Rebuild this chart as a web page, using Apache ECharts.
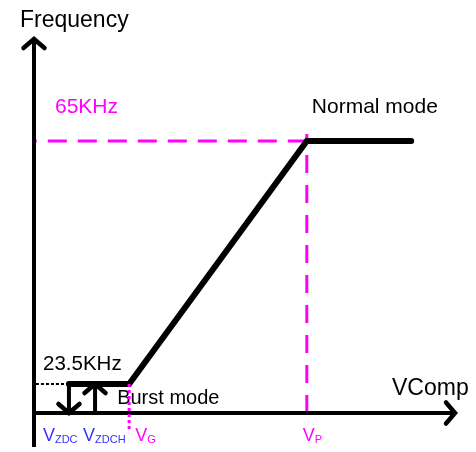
<!DOCTYPE html>
<html>
<head>
<meta charset="utf-8">
<script src="https://cdn.jsdelivr.net/npm/echarts@6/dist/echarts.min.js"></script>
<style>
    html, body { margin: 0; padding: 0; background: #fff; }
    #main { width: 476px; height: 452px; }
</style>
</head>
<body>
<div id="main"></div>
<script>
    // schematic units: x 0..100 along VComp, y 0..100 along Frequency
    var vNames = ['ZDC', 'ZDCH', 'G', 'P'];
    var vPos = [8.3, 14.5, 22.6, 64.8];
    var vColors = ['#3333ff', '#3333ff', '#ff00ff', '#ff00ff'];
    var freqNames = ['23.5KHz', '65KHz'];
    var freqPos = [7.75, 72.7];
    var normalEnd = 89.6;
    var curveX = [vPos[0], vPos[2], vPos[3], normalEnd];
    var curveY = [freqPos[0], freqPos[0], freqPos[1], freqPos[1]];
    var xAxisSpan = [-5.7, 100];
    var yAxisSpan = [-9.1, 100];

    var FONT = '"Liberation Sans", Arial, sans-serif';

    function seg(points, style, z) {
        return {
            type: 'line',
            data: points,
            clip: false,
            symbol: 'none',
            silent: true,
            animation: false,
            z: z || 2,
            lineStyle: style
        };
    }

    var curve = [];
    for (var i = 0; i < curveX.length; i++) {
        curve.push([curveX[i], curveY[i]]);
    }

    // arrow heads: tip point + direction
    var arrowTips = [[xAxisSpan[1], 0], [0, yAxisSpan[1]], [vPos[0], 0], [vPos[1], freqPos[0]]];
    var arrowDirs = ['right', 'up', 'down', 'up'];

    var texts = [
        { value: [0, yAxisSpan[1]], text: 'Frequency', size: 23, color: '#000', pos: [-14, -18.5] },
        { value: [xAxisSpan[1], 0], text: 'VComp', size: 23, color: '#000', pos: [-63, -24] },
        { value: [0, freqPos[1]], text: freqNames[1], size: 21, color: '#ff00ff', pos: [21, -33.5] },
        { value: [vPos[3], freqPos[1]], text: 'Normal mode', size: 21, color: '#000', pos: [5, -33.5] },
        { value: [0, freqPos[0]], text: freqNames[0], size: 20.5, color: '#000', pos: [9, -20] },
        { value: [vPos[2], freqPos[0]], text: 'Burst mode', size: 20, color: '#000', pos: [-12, 14.5] }
    ];
    var vOffsets = [-26, -12, 6, -4];

    var labelData = texts.map(function (t) {
        return {
            value: t.value,
            label: {
                show: true, formatter: t.text, position: t.pos, align: 'left', verticalAlign: 'middle',
                fontSize: t.size, color: t.color, fontFamily: FONT,
                textBorderWidth: 0, textShadowBlur: 0, opacity: 1
            }
        };
    });
    vNames.forEach(function (n, i) {
        labelData.push({
            value: [vPos[i], 0],
            label: {
                show: true, formatter: '{v|V}{s|' + n + '}', position: [vOffsets[i], 22],
                align: 'left', verticalAlign: 'middle',
                textBorderWidth: 0, textShadowBlur: 0, opacity: 1,
                rich: {
                    v: { fontSize: 18, color: vColors[i], fontFamily: FONT, verticalAlign: 'bottom', lineHeight: 20, textBorderWidth: 0 },
                    s: { fontSize: 11, color: vColors[i], fontFamily: FONT, verticalAlign: 'bottom', lineHeight: 20, textBorderWidth: 0 }
                }
            }
        });
    });

    var chart = echarts.init(document.getElementById('main'));
    chart.setOption({
        animation: false,
        grid: { left: 34, right: 21, top: 39, bottom: 39 },
        xAxis: { type: 'value', min: 0, max: 100, show: false },
        yAxis: { type: 'value', min: 0, max: 100, show: false },
        series: [
            // magenta guides
            seg([[vPos[3], freqPos[1]], [0.5, freqPos[1]]], { color: '#ff00ff', width: 3, type: [19, 11] }),
            seg([[vPos[3], 0], [vPos[3], 74.6]], { color: '#ff00ff', width: 3, type: [18, 12] }),
            seg([[vPos[2], freqPos[0]], [vPos[2], -5.1]], { color: '#ff00ff', width: 3, type: [3, 3] }, 5),
            // black dotted at 23.5KHz
            seg([[vPos[0], freqPos[0]], [-0.95, freqPos[0]]], { color: '#000', width: 2, type: [3, 2] }),
            // axes
            seg([[xAxisSpan[0], 0], [xAxisSpan[1], 0]], { color: '#000', width: 4 }),
            seg([[0, yAxisSpan[0]], [0, yAxisSpan[1]]], { color: '#000', width: 4 }),
            // hysteresis arrows
            seg([[vPos[0], freqPos[0]], [vPos[0], 0]], { color: '#000', width: 4 }),
            seg([[vPos[1], 0], [vPos[1], freqPos[0]]], { color: '#000', width: 4 }),
            // frequency curve
            seg(curve, { color: '#000', width: 6, cap: 'round', join: 'miter' }),
            {
                type: 'custom',
                clip: false,
                silent: true,
                animation: false,
                data: arrowTips,
                renderItem: function (params, api) {
                    var p = api.coord([api.value(0), api.value(1)]);
                    var d = arrowDirs[params.dataIndex];
                    var a = 10.5, b = 9;
                    var pts;
                    if (d === 'up') pts = [[p[0] - a, p[1] + b], p, [p[0] + a, p[1] + b]];
                    else if (d === 'down') pts = [[p[0] - a, p[1] - b], p, [p[0] + a, p[1] - b]];
                    else pts = [[p[0] - b, p[1] - a], p, [p[0] - b, p[1] + a]];
                    return {
                        type: 'polyline',
                        shape: { points: pts },
                        style: { stroke: '#000', lineWidth: 4.5, fill: null, lineCap: 'round', lineJoin: 'miter' }
                    };
                }
            },
            {
                type: 'scatter',
                silent: true,
                animation: false,
                symbolSize: 0,
                itemStyle: { color: 'rgba(0,0,0,0)' },
                data: labelData
            }
        ]
    });
</script>
</body>
</html>
